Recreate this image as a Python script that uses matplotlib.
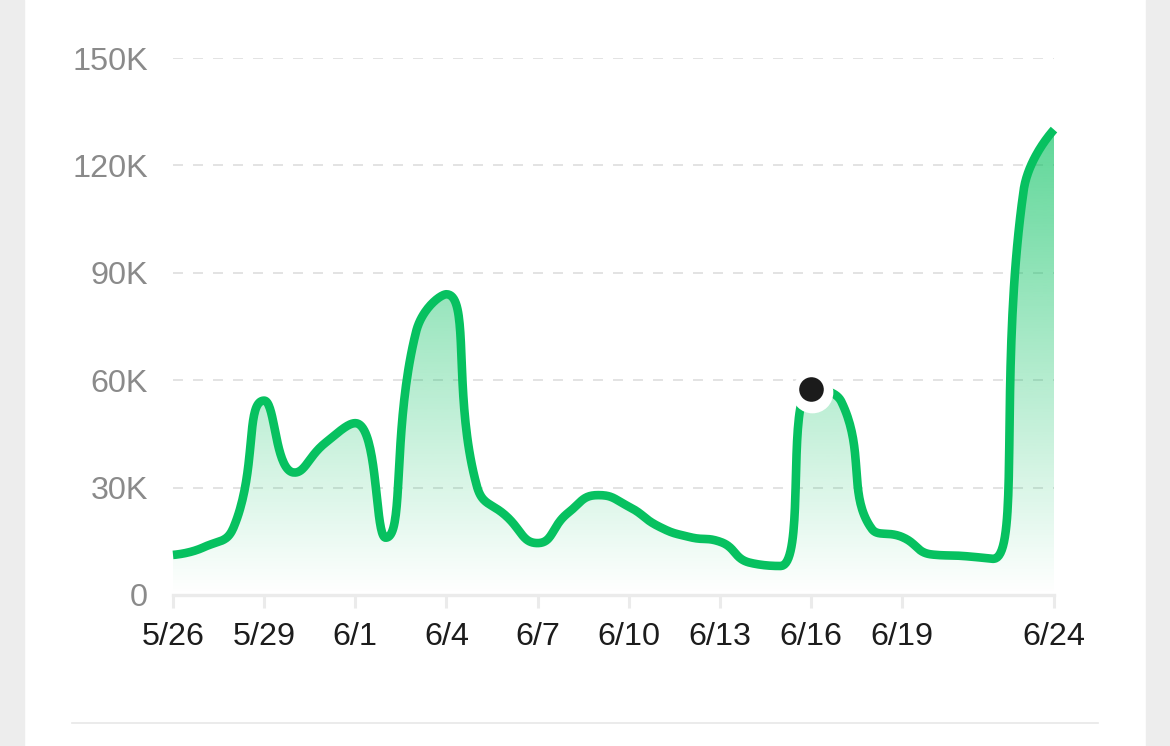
import numpy as np
import matplotlib
matplotlib.use('Agg')
import matplotlib.pyplot as plt
import matplotlib.transforms as mtransforms
from matplotlib.patches import Polygon, Rectangle
from matplotlib.lines import Line2D
from matplotlib.colors import to_rgb

# ---- data ----
dates = ['5/26', '5/27', '5/28', '5/29', '5/30', '5/31',
         '6/1', '6/2', '6/3', '6/4', '6/5', '6/6', '6/7', '6/8', '6/9', '6/10',
         '6/11', '6/12', '6/13', '6/14', '6/15', '6/16', '6/17', '6/18', '6/19',
         '6/20', '6/21', '6/22', '6/23', '6/24']
values = [11200, 13300, 19000, 54300, 34200, 42400,
          48000, 16000, 73500, 84000, 30500, 21800, 14500, 22900, 27900, 24700,
          19100, 16200, 14900, 9000, 8100, 57500, 54000, 18500, 16200,
          11300, 10900, 10100, 113000, 130000]
xtick_labels = ['5/26', '5/29', '6/1', '6/4', '6/7', '6/10', '6/13', '6/16', '6/19', '6/24']
ytick_values = [0, 30000, 60000, 90000, 120000, 150000]
ytick_labels = ['0', '30K', '60K', '90K', '120K', '150K']
highlight_date = '6/16'

GREEN = '#07c160'
plt.rcParams['font.family'] = ['Liberation Sans', 'DejaVu Sans']


def smooth_path(P, smooth=0.5, n=40):
    """Bezier smoothing with extreme clamping (pixel space)."""
    P = np.asarray(P, float)
    N = len(P)
    out = [P[0:1]]
    cp0 = P[0].copy()
    for i in range(1, N):
        x, y = P[i]
        px, py = P[i - 1]
        if i == N - 1:
            cp1 = np.array([x, y]); ncp0 = np.array([x, y])
        else:
            nx, ny = P[i + 1]
            vx, vy = nx - px, ny - py
            d0 = np.hypot(x - px, y - py)
            d1 = np.hypot(nx - x, ny - y)
            r = d1 / (d0 + d1)
            ncx = x + vx * smooth * r
            ncy = y + vy * smooth * r
            ncx = min(ncx, max(nx, x)); ncy = min(ncy, max(ny, y))
            ncx = max(ncx, min(nx, x)); ncy = max(ncy, min(ny, y))
            vx, vy = ncx - x, ncy - y
            c1x = x - vx * d0 / d1
            c1y = y - vy * d0 / d1
            c1x = min(c1x, max(px, x)); c1y = min(c1y, max(py, y))
            c1x = max(c1x, min(px, x)); c1y = max(c1y, min(py, y))
            vx, vy = x - c1x, y - c1y
            ncx = x + vx * d1 / d0
            ncy = y + vy * d1 / d0
            cp1 = np.array([c1x, c1y]); ncp0 = np.array([ncx, ncy])
        t = np.linspace(0, 1, n)[1:, None]
        p0 = P[i - 1]; p3 = P[i]
        seg = ((1 - t) ** 3) * p0 + 3 * ((1 - t) ** 2) * t * cp0 + 3 * (1 - t) * t ** 2 * cp1 + t ** 3 * p3
        out.append(seg)
        cp0 = ncp0
    return np.vstack(out)


W, H, DPI = 1170, 746, 100
fig = plt.figure(figsize=(W / DPI, H / DPI), dpi=DPI, facecolor='white')

# side gray bands and bottom separator
fig.patches.append(Rectangle((0, 0), 24 / W, 1, transform=fig.transFigure, color='#ededed', zorder=0))
fig.patches.append(Rectangle((1146 / W, 0), 24 / W, 1, transform=fig.transFigure, color='#ededed', zorder=0))
fig.lines.append(Line2D([72 / W, 1098 / W], [1 - 723 / H, 1 - 723 / H], transform=fig.transFigure,
                        color='#e8e8e8', lw=1.2))

left, right = 173 / W, 1054 / W
bottom, top = 1 - 595 / H, 1 - 58 / H
ax = fig.add_axes([left, bottom, right - left, top - bottom])
ax.set_facecolor('none')

x = np.arange(len(dates))
ax.set_xlim(0, len(dates) - 1)
ax.set_ylim(0, 150000)

# smoothing computed in screen space, then mapped back to data space
pix = ax.transData.transform(np.column_stack([x, values]))
curve_pix = smooth_path(pix, smooth=0.5)
curve = ax.transData.inverted().transform(curve_pix)
xs, ys = curve[:, 0], curve[:, 1]

# gradient fill
ymax = max(values)
rgb = np.array(to_rgb(GREEN))
nrow = 300
grad = np.zeros((nrow, 1, 4))
grad[:, 0, :3] = rgb
grad[:, 0, 3] = np.linspace(0.65, 0.0, nrow)
im = ax.imshow(grad, extent=[0, len(dates) - 1, 0, ymax], aspect='auto', origin='upper',
               zorder=2, interpolation='bilinear')
poly = Polygon(np.column_stack([np.r_[xs, xs[-1], xs[0]], np.r_[ys, 0, 0]]),
               closed=True, transform=ax.transData, facecolor='none', edgecolor='none')
ax.add_patch(poly)
im.set_clip_path(poly)

# line
ax.plot(xs, ys, color=GREEN, lw=6.2, solid_capstyle='butt', solid_joinstyle='round',
        zorder=4, clip_on=False)

# gridlines
for v in ytick_values[1:]:
    ax.axhline(v, color='#dedede', lw=1.2, dashes=(6, 6), zorder=1)

# highlight point (white halo slightly offset, like a soft shadowed ring)
hi = dates.index(highlight_date)
halo_tr = ax.transData + mtransforms.ScaledTranslation(1.5 / DPI, -2.5 / DPI, fig.dpi_scale_trans)
ax.plot([x[hi]], [values[hi]], 'o', ms=30, color='white', mec='none', zorder=5, clip_on=False,
        transform=halo_tr)
ax.plot([x[hi]], [values[hi]], 'o', ms=17.7, color='#1b1b1b', mec='none', zorder=6, clip_on=False)

# axes styling
for sp in ['top', 'right', 'left']:
    ax.spines[sp].set_visible(False)
ax.spines['bottom'].set_color('#ebebeb')
ax.spines['bottom'].set_linewidth(2.4)
ax.spines['bottom'].set_zorder(3)

ax.set_xticks([dates.index(d) for d in xtick_labels])
ax.set_xticklabels(xtick_labels)
ax.set_yticks(ytick_values)
ax.set_yticklabels(ytick_labels)
ax.tick_params(axis='x', length=9.4, width=2.2, color='#ebebeb', pad=10,
               labelsize=23.3, labelcolor='#1c1c1c')
ax.tick_params(axis='y', length=0, pad=18, labelsize=23.3, labelcolor='#8a8a8a')

fig.savefig('out.png', dpi=DPI, facecolor='white')
